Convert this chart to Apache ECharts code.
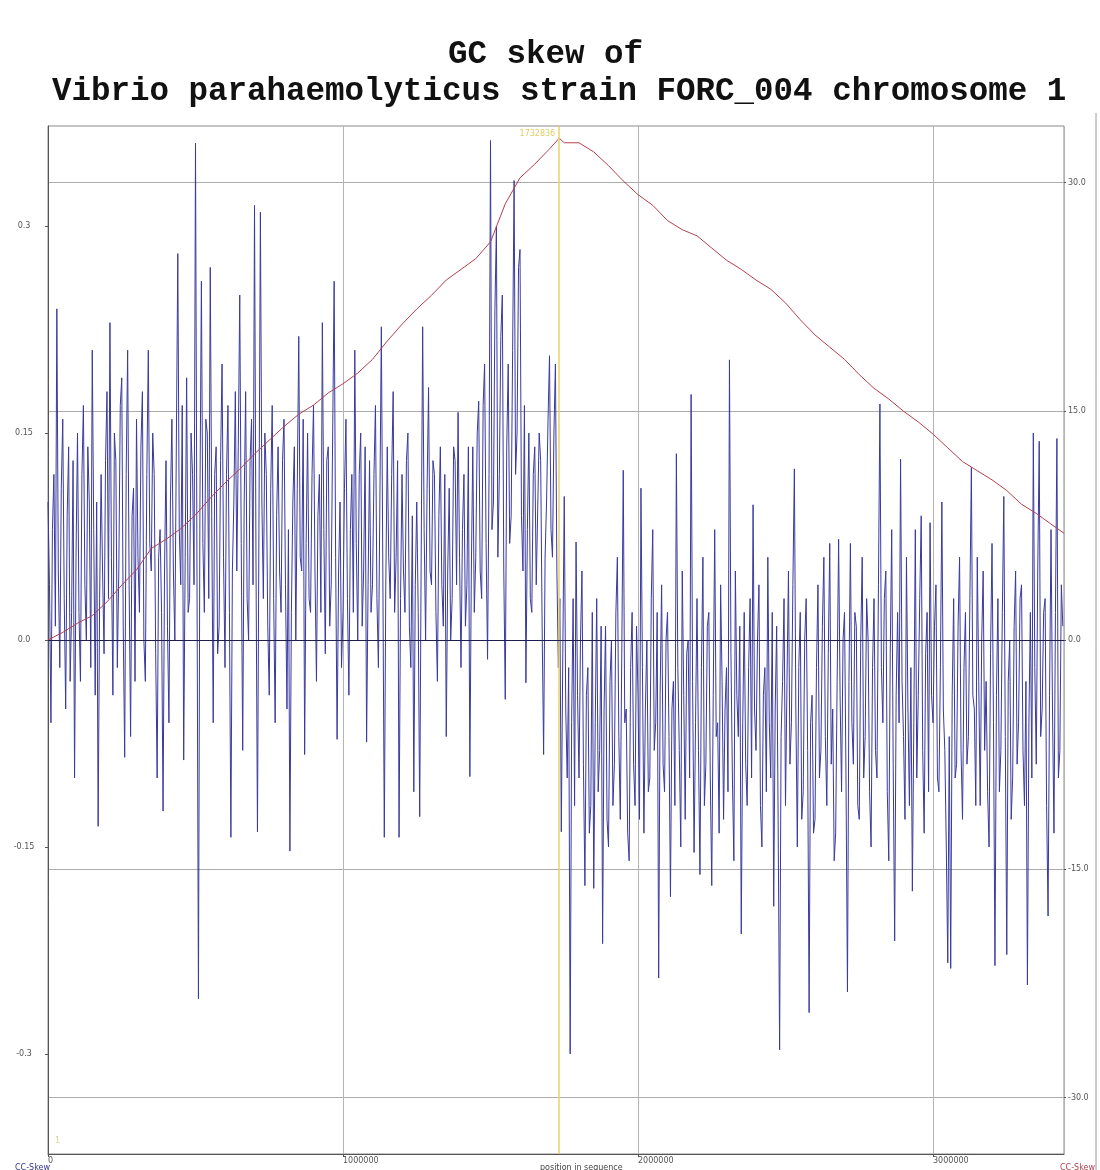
<!DOCTYPE html>
<html><head><meta charset="utf-8">
<script src="https://cdn.jsdelivr.net/npm/echarts@6.0.0/dist/echarts.min.js"></script>
<style>html,body{margin:0;padding:0;background:#fff}#c{width:1100px;height:1170px}</style>
</head><body><div id="c"></div>
<script>
const titleLines = ['GC skew of', 'Vibrio parahaemolyticus strain FORC_004 chromosome 1'];
const seqLength = 3444000;
const xTickValues = [0, 1000000, 2000000, 3000000];
const leftTickValues = [-0.3, -0.15, 0, 0.15, 0.3];
const rightTickValues = [-30, -15, 0, 15, 30];
const originMarker = 1732836;
const startMarker = 1;
const windowStep = 5000;

// GC skew per window (left axis); one row = 100 kb
const gcSkew = [
  0.10,0.04,-0.06,0.08,0.12,0.01,0.24,0.05,-0.02,0.11,0.16,0.03,-0.05,0.09,0.14,-0.03,0.02,0.13,-0.10,0.06,
  0.15,0.02,-0.03,0.12,0.17,0.04,0.00,0.14,0.10,-0.02,0.21,0.08,-0.04,0.10,-0.135,0.03,0.12,0.05,-0.01,0.13,
  0.18,0.03,0.23,0.06,-0.04,0.15,0.13,-0.02,0.05,0.17,0.19,0.01,-0.085,0.12,0.21,0.04,-0.07,0.09,0.11,-0.03,
  0.16,0.06,0.02,0.14,0.18,0.00,-0.03,0.12,0.21,0.07,0.05,0.15,0.12,-0.01,-0.10,0.06,0.08,0.02,-0.124,0.05,
  0.13,0.01,-0.06,0.10,0.16,0.05,0.00,0.14,0.28,0.08,0.04,0.17,-0.087,0.06,0.19,0.02,0.03,0.15,0.12,0.04,
  0.36,0.05,-0.26,0.10,0.26,0.07,0.02,0.16,0.15,0.03,0.27,0.09,-0.06,0.12,0.14,-0.01,0.01,0.13,0.20,0.06,
  -0.02,0.12,0.17,0.02,-0.143,0.05,0.10,0.18,0.05,0.14,0.25,0.07,-0.08,0.10,0.18,0.03,0.00,0.13,0.16,0.04,
  0.315,0.06,-0.139,0.08,0.31,0.10,0.03,0.15,0.12,0.01,-0.04,0.11,0.17,0.03,-0.06,0.09,0.14,0.05,0.02,0.13,
  0.16,0.04,-0.05,0.08,-0.153,0.02,0.10,0.14,0.00,0.11,0.22,0.06,0.05,0.16,-0.083,0.07,0.15,0.03,0.02,0.12,
  0.17,0.05,-0.03,0.09,0.12,0.02,0.23,0.08,-0.01,0.13,0.14,0.01,0.04,0.15,0.26,0.06,-0.072,0.05,0.10,-0.02,
  0.02,0.11,0.16,0.03,-0.04,0.08,0.12,0.02,0.21,0.07,0.00,0.12,0.15,0.01,0.05,0.14,-0.074,0.04,0.13,0.02,
  0.04,0.12,0.17,0.03,-0.02,0.10,0.227,0.05,-0.143,0.04,0.14,0.06,0.03,0.12,0.18,0.02,0.06,0.13,-0.143,0.03,
  0.12,0.05,0.02,0.13,0.15,0.01,-0.02,0.09,-0.11,0.04,0.10,0.02,-0.128,0.06,0.227,0.08,0.00,0.11,0.183,0.05,
  0.04,0.13,0.12,0.02,-0.03,0.09,0.14,0.04,0.01,0.12,-0.07,0.05,0.11,0.00,0.03,0.14,0.13,0.04,0.165,0.06,
  -0.02,0.08,0.12,0.01,0.04,0.14,-0.099,0.05,0.14,0.02,0.06,0.15,0.173,0.05,0.03,0.17,0.20,0.07,-0.014,0.12,
  0.362,0.08,0.10,0.24,0.30,0.06,0.12,0.22,0.25,0.05,-0.043,0.14,0.20,0.07,0.09,0.21,0.333,0.12,0.15,0.27,
  0.283,0.09,0.05,0.17,-0.031,0.08,0.15,0.03,0.02,0.12,0.14,0.04,0.04,0.15,0.13,0.01,-0.083,0.06,0.10,0.16,
  0.206,0.08,0.06,0.15,0.20,0.05,-0.02,0.03,-0.139,-0.01,0.104,-0.05,-0.10,-0.02,-0.30,-0.06,0.03,-0.12,0.071,-0.04,
  -0.10,0.00,0.05,-0.09,-0.178,-0.04,-0.02,-0.14,-0.12,0.02,-0.18,-0.06,0.03,-0.11,-0.08,0.01,-0.22,-0.05,0.01,-0.13,
  -0.15,-0.03,0.00,-0.12,-0.09,0.02,0.06,-0.07,-0.13,-0.01,0.123,-0.06,-0.05,-0.14,-0.16,-0.02,0.02,-0.09,-0.12,0.01,
  -0.04,-0.13,0.11,-0.02,-0.14,-0.05,0.00,-0.11,-0.10,0.03,0.08,-0.08,-0.06,0.02,-0.245,-0.04,0.04,-0.09,-0.11,0.00,
  0.02,-0.07,-0.186,-0.05,-0.03,-0.12,0.135,-0.02,-0.08,-0.15,0.05,-0.04,-0.13,-0.01,0.00,-0.10,0.178,-0.03,-0.154,-0.06,
  0.03,-0.08,-0.17,-0.02,0.06,-0.12,-0.09,0.01,0.02,-0.10,-0.178,-0.04,0.08,-0.07,-0.06,-0.14,0.04,-0.03,-0.13,-0.05,
  -0.02,-0.11,0.203,-0.01,-0.10,-0.16,0.05,-0.04,-0.07,0.01,-0.213,-0.06,0.02,-0.09,-0.12,-0.02,0.03,-0.10,0.098,-0.05,
  -0.08,0.00,0.04,-0.12,-0.15,-0.04,-0.02,-0.11,0.06,-0.06,-0.10,0.02,-0.193,-0.05,0.01,-0.13,-0.297,-0.07,-0.03,0.03,
  -0.12,-0.03,0.05,-0.09,-0.06,0.04,0.124,-0.05,-0.15,-0.02,0.02,-0.13,-0.11,0.00,0.03,-0.08,-0.27,-0.06,-0.04,-0.14,
  -0.13,-0.02,0.04,-0.10,-0.08,0.01,0.06,-0.07,-0.12,-0.01,0.07,-0.09,-0.05,-0.16,-0.14,-0.03,0.073,-0.04,-0.11,0.00,
  0.02,-0.10,-0.255,-0.03,0.07,-0.06,-0.09,0.02,0.01,-0.12,-0.13,0.00,0.06,-0.10,-0.07,0.03,0.00,-0.11,-0.15,-0.02,
  0.03,-0.08,-0.10,0.04,0.171,-0.02,-0.06,0.03,0.05,-0.11,-0.16,-0.01,0.08,-0.09,-0.218,-0.04,0.02,-0.06,0.131,-0.03,
  -0.07,-0.13,0.06,-0.05,-0.12,-0.02,-0.182,-0.06,0.08,-0.10,-0.04,0.03,0.09,-0.08,-0.14,-0.01,0.02,-0.11,0.085,-0.04,
  -0.06,0.01,0.04,-0.10,-0.11,-0.02,0.10,-0.05,-0.08,-0.15,-0.234,-0.07,-0.238,-0.04,0.03,-0.10,-0.09,0.01,0.06,-0.08,
  -0.13,-0.02,0.02,-0.09,-0.07,0.03,0.125,-0.04,-0.05,-0.12,0.06,-0.03,-0.12,0.00,0.05,-0.08,-0.03,-0.11,-0.15,-0.01,
  0.07,-0.06,-0.236,-0.04,0.03,-0.11,-0.08,0.02,0.104,-0.07,-0.228,-0.03,0.00,-0.13,-0.10,0.01,0.05,-0.09,-0.06,0.03,
  0.04,-0.08,-0.12,-0.03,-0.25,-0.06,0.02,-0.10,0.15,-0.02,-0.09,0.05,0.144,-0.07,-0.05,0.02,0.03,-0.12,-0.20,-0.04,
  0.08,-0.05,-0.14,0.02,0.146,-0.10,-0.08,0.04,0.01
];

// Cumulative GC skew (right axis)
const cumPos = [0,50000,100000,150000,200000,250000,300000,350000,400000,450000,500000,550000,600000,650000,700000,750000,800000,850000,900000,950000,1000000,1050000,1100000,1150000,1200000,1250000,1300000,1350000,1400000,1450000,1500000,1550000,1600000,1650000,1700000,1732836,1750000,1800000,1850000,1900000,1950000,2000000,2050000,2100000,2150000,2200000,2250000,2300000,2350000,2400000,2450000,2500000,2550000,2600000,2650000,2700000,2750000,2800000,2850000,2900000,2950000,3000000,3050000,3100000,3150000,3200000,3250000,3300000,3350000,3400000,3444000];
const cumSkew = [0,0.5,1.1,1.6,2.5,3.6,4.6,6.0,6.6,7.3,8.2,9.3,10.3,11.2,12.2,13.1,14.0,14.8,15.4,16.2,16.8,17.5,18.4,19.6,20.7,21.7,22.6,23.6,24.3,25.0,26.1,28.6,30.3,31.2,32.2,32.9,32.6,32.6,32.0,31.1,30.1,29.2,28.5,27.5,26.9,26.5,25.7,24.9,24.3,23.6,23.0,22.1,21.0,20.0,19.2,18.4,17.4,16.5,15.8,15.0,14.3,13.5,12.6,11.7,11.1,10.5,9.8,8.9,8.3,7.6,7.0];

const chart = echarts.init(document.getElementById('c'), null, {renderer: 'canvas'});
const titleStyle = {fontFamily: 'Liberation Mono', fontSize: 32.5, fontWeight: 'bold', color: '#111'};
const smallFont = {fontFamily: 'DejaVu Sans', fontSize: 8, color: '#555'};

const option = {
  animation: false,
  backgroundColor: '#fff',
  title: [
    {text: titleLines[0], left: 443, top: 33, textStyle: titleStyle},
    {text: titleLines[1], left: 47, top: 70, textStyle: titleStyle}
  ],
  grid: {left: 48, right: 36, top: 126, bottom: 16, show: true, borderColor: '#8a8a8a', borderWidth: 1, outerBoundsMode: 'none'},
  xAxis: {
    type: 'value', min: 0, max: seqLength, interval: 1000000,
    axisLine: {onZero: false, lineStyle: {color: '#555'}},
    axisTick: {show: true, length: 3, lineStyle: {color: '#555'}},
    axisLabel: Object.assign({showMaxLabel: false, align: 'left', margin: 3, hideOverlap: false, formatter: v => String(v)}, smallFont),
    splitLine: {show: true, lineStyle: {color: '#b4b4b4', width: 1}}
  },
  yAxis: [
    {
      type: 'value', min: -0.3725, max: 0.3725, position: 'left',
      axisLine: {show: true, onZero: false, lineStyle: {color: '#555'}},
      axisTick: {show: true, length: 3, customValues: leftTickValues, lineStyle: {color: '#555'}},
      axisLabel: Object.assign({customValues: leftTickValues, align: 'center', margin: 24, formatter: v => (v === 0 ? '0.0' : String(v))}, smallFont),
      splitLine: {show: false}
    },
    {
      type: 'value', min: -33.7, max: 33.7, position: 'right',
      axisLine: {show: false, onZero: false},
      axisTick: {show: true, length: 2, customValues: rightTickValues, lineStyle: {color: '#555'}},
      axisLabel: Object.assign({customValues: rightTickValues, align: 'left', margin: 4, formatter: v => v.toFixed(1)}, smallFont),
      splitLine: {show: true, lineStyle: {color: '#acacac', width: 1}}
    }
  ],
  series: [
    {
      name: 'GC skew', type: 'line', yAxisIndex: 0, showSymbol: false, symbol: 'none', sampling: null,
      data: gcSkew.map((v, i) => [i * windowStep, v]),
      lineStyle: {color: '#3a3aa0', width: 1},
      z: 2,
      markLine: {
        silent: true, symbol: 'none', animation: false,
        lineStyle: {color: '#e8d26a', width: 1.5, type: 'solid'},
        label: {show: false},
        data: [{xAxis: originMarker}]
      }
    },
    {
      name: 'Cumulative GC skew', type: 'line', yAxisIndex: 1, showSymbol: false, symbol: 'none',
      data: cumPos.map((p, i) => [p, cumSkew[i]]),
      lineStyle: {color: '#b4404e', width: 1},
      z: 3,
      markLine: {
        silent: true, symbol: 'none', animation: false,
        lineStyle: {color: '#1e1e52', width: 1, type: 'solid'},
        label: {show: false},
        data: [{yAxis: 0}]
      }
    }
  ]
};
chart.setOption(option);

const peakX = chart.convertToPixel({xAxisIndex: 0}, originMarker);
const startX = chart.convertToPixel({xAxisIndex: 0}, startMarker);
chart.setOption({
  graphic: [
    {type: 'line', shape: {x1: 1096, y1: 113, x2: 1096, y2: 1170}, style: {stroke: '#9a9a9a', lineWidth: 1}, silent: true},
    {type: 'text', x: peakX - 4, y: 130, style: {text: String(originMarker), fill: '#e3cc62', font: '8px DejaVu Sans', textAlign: 'right', textVerticalAlign: 'top'}},
    {type: 'text', x: startX + 7, y: 1137, style: {text: String(startMarker), fill: '#d8d890', font: '8px DejaVu Sans', textAlign: 'left', textVerticalAlign: 'top'}},
    {type: 'text', x: 15, y: 1164, style: {text: 'CC-Skew', fill: '#34348e', font: '8px DejaVu Sans', textVerticalAlign: 'top'}},
    {type: 'text', x: 540, y: 1164, style: {text: 'position in sequence', fill: '#444', font: '8px DejaVu Sans', textVerticalAlign: 'top'}},
    {type: 'text', x: 1060, y: 1164, style: {text: 'CC-Skew', fill: '#b4404e', font: '8px DejaVu Sans', textVerticalAlign: 'top'}}
  ]
});
</script></body></html>
